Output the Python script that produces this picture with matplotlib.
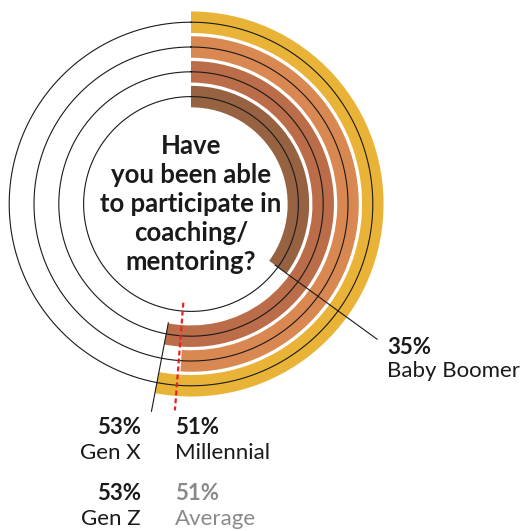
import matplotlib.pyplot as plt
import numpy as np

# data, outer ring first
groups = ["Gen Z", "Millennial", "Gen X", "Baby Boomer"]
shares = [53, 51, 53, 35]
average = 51
question = "Have\nyou been able\nto participate in\ncoaching/\nmentoring?"

ring_colors = ["#E9B338", "#D98852", "#BA6D48", "#966242"]

W, H = 521, 531
CX, CY = 191, 204      # pixel centre of the rings
RMAX = 240             # radial data units == pixels

plt.rcParams["font.family"] = ["Lato", "DejaVu Sans"]

fig = plt.figure(figsize=(W / 100, H / 100), dpi=100)

ax = fig.add_axes([(CX - RMAX) / W, (H - CY - RMAX) / H, 2 * RMAX / W, 2 * RMAX / H],
                  projection="polar")
ax.set_theta_zero_location("N")
ax.set_theta_direction(-1)
ax.set_ylim(0, RMAX)
ax.axis("off")

band = 21.5
step = 24.8
r_outer_centre = 181.8
theta = np.linspace(0, 2 * np.pi, 400)

for i, (share, col) in enumerate(zip(shares, ring_colors)):
    rc = r_outer_centre - i * step
    ax.barh(rc, share / 100 * 2 * np.pi, height=band, left=0, color=col,
            edgecolor="none", align="center")
    ax.plot(theta, np.full_like(theta, rc), color="#1a1a1a", lw=0.8)

# leader lines
t_gx = shares[2] / 100 * 2 * np.pi
ax.plot([t_gx, t_gx], [121, 211], color="#1a1a1a", lw=0.8, clip_on=False)
t_bb = shares[3] / 100 * 2 * np.pi
ax.plot([t_bb, t_bb], [104, 230], color="#1a1a1a", lw=0.8, clip_on=False)
t_av = average / 100 * 2 * np.pi + 0.015
ax.plot([t_av, t_av], [99, 207], color="#E8202A", lw=1.6, ls=(0, (2.2, 1.4)),
        clip_on=False)

# text layer in pixel coordinates
tx = fig.add_axes([0, 0, 1, 1])
tx.set_xlim(0, W)
tx.set_ylim(H, 0)
tx.axis("off")
tx.patch.set_alpha(0)

tx.text(CX, 204, question, ha="center", va="center", fontsize=18.5,
        fontweight="bold", color="#1a1a1a", linespacing=1.25)

dark = "#1a1a1a"
grey = "#8a8a8a"
pct_size = 16
lab_size = 16

tx.text(387, 348, f"{shares[3]}%", ha="left", va="center", fontsize=pct_size,
        fontweight="bold", color=dark)
tx.text(387, 371, groups[3], ha="left", va="center", fontsize=lab_size, color=dark)

tx.text(141, 428, f"{shares[2]}%", ha="right", va="center", fontsize=pct_size,
        fontweight="bold", color=dark)
tx.text(141, 453, groups[2], ha="right", va="center", fontsize=lab_size, color=dark)

tx.text(175, 428, f"{shares[1]}%", ha="left", va="center", fontsize=pct_size,
        fontweight="bold", color=dark)
tx.text(175, 453, groups[1], ha="left", va="center", fontsize=lab_size, color=dark)

tx.text(141, 493, f"{shares[0]}%", ha="right", va="center", fontsize=pct_size,
        fontweight="bold", color=dark)
tx.text(141, 519, groups[0], ha="right", va="center", fontsize=lab_size, color=dark)

tx.text(175, 493, f"{average}%", ha="left", va="center", fontsize=pct_size,
        fontweight="bold", color=grey)
tx.text(175, 519, "Average", ha="left", va="center", fontsize=lab_size, color=grey)

fig.savefig("out.png", dpi=100)
